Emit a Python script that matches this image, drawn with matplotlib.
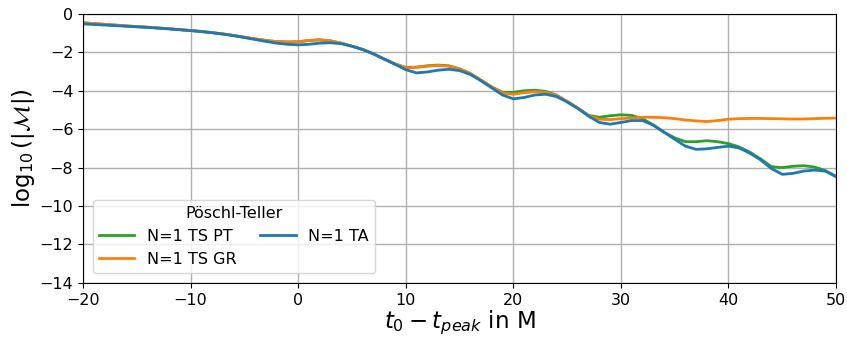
import numpy as np
import matplotlib
matplotlib.use("Agg")
import matplotlib.pyplot as plt

# time after peak (in M) and log10 of mismatch for each fit
t = np.arange(-20, 51, 1)

ts_pt = [-0.46, -0.50, -0.54, -0.58, -0.62, -0.66, -0.69, -0.73, -0.77, -0.82,
         -0.86, -0.91, -0.97, -1.04, -1.12, -1.21, -1.30, -1.38, -1.44, -1.46,
         -1.45, -1.38, -1.35, -1.40, -1.52, -1.68, -1.85, -2.08, -2.35, -2.60,
         -2.78, -2.77, -2.70, -2.66, -2.70, -2.85, -3.10, -3.45, -3.80, -4.08,
         -4.08, -4.00, -3.97, -4.03, -4.22, -4.55, -4.90, -5.28, -5.38, -5.30,
         -5.25, -5.28, -5.45, -5.78, -6.15, -6.45, -6.65, -6.65, -6.60, -6.65,
         -6.75, -6.92, -7.20, -7.55, -7.95, -8.00, -7.93, -7.90, -7.97, -8.15,
         -8.45]

ts_gr = [-0.46, -0.50, -0.54, -0.58, -0.62, -0.66, -0.69, -0.73, -0.77, -0.82,
         -0.86, -0.91, -0.97, -1.04, -1.12, -1.21, -1.30, -1.38, -1.44, -1.46,
         -1.45, -1.38, -1.35, -1.40, -1.52, -1.68, -1.85, -2.08, -2.35, -2.60,
         -2.80, -2.78, -2.72, -2.68, -2.72, -2.86, -3.10, -3.45, -3.80, -4.12,
         -4.18, -4.10, -4.05, -4.08, -4.25, -4.55, -4.90, -5.30, -5.48, -5.50,
         -5.45, -5.42, -5.38, -5.38, -5.40, -5.45, -5.52, -5.57, -5.60, -5.55,
         -5.48, -5.45, -5.44, -5.44, -5.45, -5.46, -5.47, -5.47, -5.45, -5.43,
         -5.42]

ta = [-0.52, -0.55, -0.58, -0.61, -0.64, -0.67, -0.70, -0.74, -0.78, -0.82,
      -0.87, -0.92, -0.98, -1.05, -1.13, -1.23, -1.33, -1.43, -1.52, -1.58,
      -1.61, -1.58, -1.52, -1.50, -1.55, -1.68, -1.85, -2.08, -2.35, -2.62,
      -2.90, -3.07, -3.02, -2.93, -2.88, -2.95, -3.15, -3.48, -3.85, -4.22,
      -4.42, -4.35, -4.22, -4.18, -4.30, -4.58, -4.92, -5.32, -5.65, -5.74,
      -5.65, -5.55, -5.55, -5.78, -6.15, -6.52, -6.88, -7.05, -7.02, -6.95,
      -6.88, -6.98, -7.25, -7.60, -8.05, -8.35, -8.30, -8.18, -8.13, -8.18,
      -8.47]

fig = plt.figure(figsize=(8.47, 3.4), dpi=100)
ax = fig.add_axes([0.098, 0.168, 0.889, 0.791])

ax.plot(t, ts_pt, color="tab:green", lw=2.0, label="N=1 TS PT")
ax.plot(t, ts_gr, color="tab:orange", lw=2.0, label="N=1 TS GR")
ax.plot(t, ta, color="tab:blue", lw=2.0, label="N=1 TA")

ax.set_xlim(-20, 50)
ax.set_ylim(-14, 0)
ax.set_xticks(np.arange(-20, 51, 10))
ax.set_yticks(np.arange(-14, 1, 2))
ax.tick_params(labelsize=11.5)
ax.grid(True, color="#b0b0b0", lw=1.0)

ax.set_xlabel(r"$t_0 - t_{peak}$ in M", fontsize=16.5, labelpad=1)
ax.set_ylabel(r"$\log_{10}(|\mathcal{M}|)$", fontsize=16.5, labelpad=2)

ax.legend(title="Pöschl-Teller", ncol=2, loc="lower left",
          fontsize=11.5, title_fontsize=11.5, columnspacing=1.5,
          handlelength=2.2, borderaxespad=0.6)

fig.savefig("out.png", dpi=100)
